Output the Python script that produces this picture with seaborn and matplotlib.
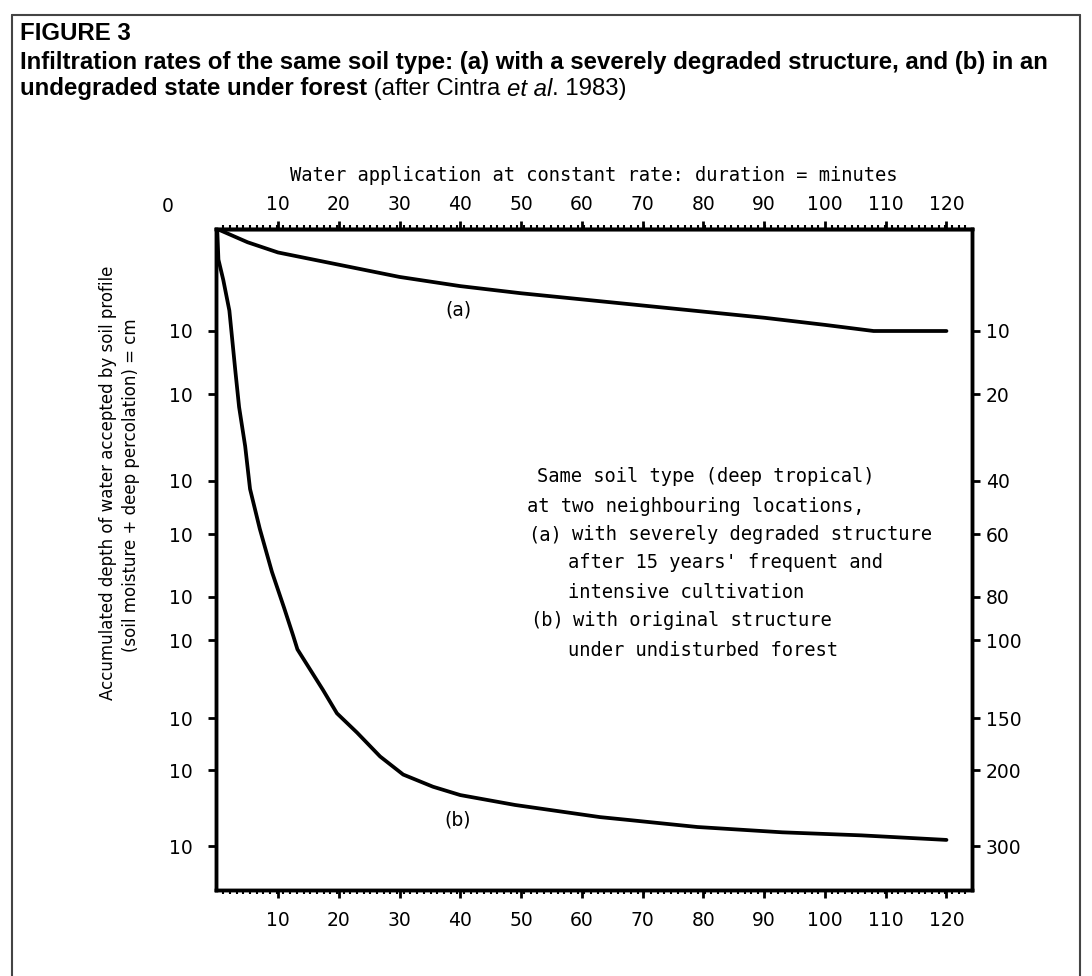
"""
Figure 3 - infiltration des deux sols (Cintra et al. 1983), refaite avec seaborn.
"""
import numpy as np
import pandas as pd
import matplotlib
matplotlib.use("Agg")
import matplotlib.pyplot as plt
from matplotlib.lines import Line2D
import seaborn as sns

# ---------- données -----------------------------------------------------------
MINUTES_A = [0, 5, 10, 20, 30, 40, 50, 60, 70, 80, 90, 100, 108, 120]
DEPTH_A = [0, 1.3, 2.3, 3.5, 4.7, 5.6, 6.3, 6.9, 7.5, 8.1, 8.7, 9.4, 10.0, 10.0]

MINUTES_B = [0, 0.2, 1, 2, 3, 3.6, 4.6, 5.4, 7, 9, 11, 12.5, 13.2, 15.3, 17.4,
             19.7, 23, 26.8, 30.6, 35.5, 40, 49, 63, 68, 79, 93, 106, 120]
DEPTH_B = [0, 3, 5, 8, 16.5, 23, 32, 43, 58, 72, 85, 98, 106, 119, 132,
           147, 164, 187, 206, 222, 233, 246, 262, 266, 275, 282, 286, 292]

MINUTE_TICKS = [10, 20, 30, 40, 50, 60, 70, 80, 90, 100, 110, 120]
DEPTH_TICKS = [10, 20, 40, 60, 80, 100, 150, 200, 300]
LEFT_LABELS = ["10"] * len(DEPTH_TICKS)   # tel quel sur l'original
RIGHT_LABELS = [str(v) for v in DEPTH_TICKS]

# échelle verticale irrégulière de l'original (valeur -> pixels depuis le haut)
SCALE_VALS = [0, 10, 20, 40, 60, 80, 100, 150, 200, 300, 360]
SCALE_PX = [0, 102, 165, 252, 305, 368, 411, 489, 541, 617, 661]


def fwd(v):
    return np.interp(v, SCALE_VALS, SCALE_PX)


def inv(p):
    return np.interp(p, SCALE_PX, SCALE_VALS)


sns.set_theme(style="white")
plt.rcParams["font.family"] = ["DejaVu Sans"]
for key in ["text.color", "axes.labelcolor", "axes.edgecolor", "xtick.color", "ytick.color"]:
    plt.rcParams[key] = "black"
MONO = ["DejaVu Sans Mono", "DejaVu Sans"]
W, H = 1092, 976
fig = plt.figure(figsize=(W / 100, H / 100), dpi=100)


def fx(px):
    return px / W


def fy(py):
    return 1 - py / H


# cadre extérieur (ouvert en bas)
for xs, ys in [([12, 12], [H + 5, 15]), ([12, 1080], [15, 15]), ([1080, 1080], [15, H + 5])]:
    fig.add_artist(Line2D([fx(x) for x in xs], [fy(y) for y in ys], color="#444", lw=1.5))

# ---------- titre ---------------------------------------------------------------
TF = ["Liberation Sans", "DejaVu Sans"]
fig.text(fx(20), fy(33), "FIGURE 3", fontsize=17.3, fontweight="bold", family=TF, va="center")
fig.text(fx(20), fy(62), "Infiltration rates of the same soil type: (a) with a severely degraded "
         "structure, and (b) in an", fontsize=17.3, fontweight="bold", family=TF, va="center")
renderer = fig.canvas.get_renderer()
x0 = fx(20)
for txt, kw in [("undegraded state under forest", dict(fontweight="bold")),
                (" (after Cintra ", {}), ("et al", dict(style="italic")), (". 1983)", {})]:
    t = fig.text(x0, fy(89), txt, fontsize=17.3, family=TF, va="center", **kw)
    x0 += t.get_window_extent(renderer).width / W

# ---------- graphique -------------------------------------------------------------
ax = fig.add_axes([fx(216), fy(890), fx(972 - 216), (890 - 229) / H])
df_a = pd.DataFrame({"minutes": MINUTES_A, "depth": DEPTH_A})
df_b = pd.DataFrame({"minutes": MINUTES_B, "depth": DEPTH_B})
sns.lineplot(data=df_a, x="minutes", y="depth", ax=ax, color="black", lw=2.7,
             estimator=None, sort=False)
sns.lineplot(data=df_b, x="minutes", y="depth", ax=ax, color="black", lw=2.7,
             estimator=None, sort=False)

ax.set_yscale("function", functions=(fwd, inv))
ax.set_ylim(360, 0)
ax.set_xlim(-0.2, 124.2)
ax.set_xlabel("")
ax.set_ylabel("")
for s in ax.spines.values():
    s.set_color("black")
    s.set_linewidth(2.5)

ax.set_xticks(MINUTE_TICKS)
ax.set_xticklabels([str(v) for v in MINUTE_TICKS])
ax.set_xticks(np.arange(1, 124, 1.1), minor=True)
ax.tick_params(axis="x", which="major", bottom=True, direction="out", length=6, width=2,
               labelsize=13.5, pad=9, colors="black")
ax.tick_params(axis="x", which="minor", bottom=True, direction="out", length=3, width=1.5)
ax.set_yticks(DEPTH_TICKS)
ax.set_yticklabels(LEFT_LABELS)
ax.tick_params(axis="y", which="major", left=True, direction="out", length=6, width=2,
               labelsize=13.5, pad=11, colors="black")
ax.tick_params(axis="y", which="minor", left=False)

top = ax.secondary_xaxis("top")
top.set_xticks(MINUTE_TICKS)
top.set_xticklabels([str(v) for v in MINUTE_TICKS])
top.set_xticks(np.arange(1, 124, 1.1), minor=True)
top.tick_params(which="major", direction="out", length=6, width=2, labelsize=13.5, pad=5,
                colors="black")
top.tick_params(which="minor", direction="out", length=3, width=1.5)
top.spines["top"].set_linewidth(2.5)
top.spines["top"].set_color("black")
top.set_xlabel("Water application at constant rate: duration = minutes", fontsize=13.5,
               family=MONO, labelpad=10)

ax2 = ax.twinx()
ax2.set_yscale("function", functions=(fwd, inv))
ax2.set_ylim(360, 0)
ax2.set_yticks(DEPTH_TICKS)
ax2.set_yticklabels(RIGHT_LABELS)
ax2.tick_params(axis="y", which="major", right=True, direction="out", length=6, width=2,
                labelsize=13.5, pad=4, colors="black")
ax2.tick_params(axis="y", which="minor", right=False)
for s in ax2.spines.values():
    s.set_color("black")
    s.set_linewidth(2.5)
ax2.grid(False)

fig.text(fx(168), fy(207), "0", fontsize=13.5, ha="center", va="center")

# titre de l'axe vertical sur deux lignes
fig.text(fx(108), fy(483), "Accumulated depth of water accepted by soil profile",
         fontsize=12, rotation=90, ha="center", va="center")
fig.text(fx(131), fy(485), "(soil moisture + deep percolation) = cm",
         fontsize=12, rotation=90, ha="center", va="center")

# étiquettes des courbes
fig.text(fx(458), fy(310), "(a)", fontsize=13.5, ha="center", va="center")
fig.text(fx(458), fy(820), "(b)", fontsize=13.5, ha="center", va="center")

# bloc de légende
NOTE = [(537, 477, "Same soil type (deep tropical)"),
        (527, 507, "at two neighbouring locations,"),
        (528, 535, "(a)"), (572, 535, "with severely degraded structure"),
        (568, 563, "after 15 years' frequent and"),
        (568, 592, "intensive cultivation"),
        (530, 620, "(b)"), (573, 620, "with original structure"),
        (568, 650, "under undisturbed forest")]
for px, py, txt in NOTE:
    fig.text(fx(px), fy(py), txt, fontsize=13.5, family=MONO, ha="left", va="center")

fig.savefig("out.png", dpi=100, facecolor="white")
